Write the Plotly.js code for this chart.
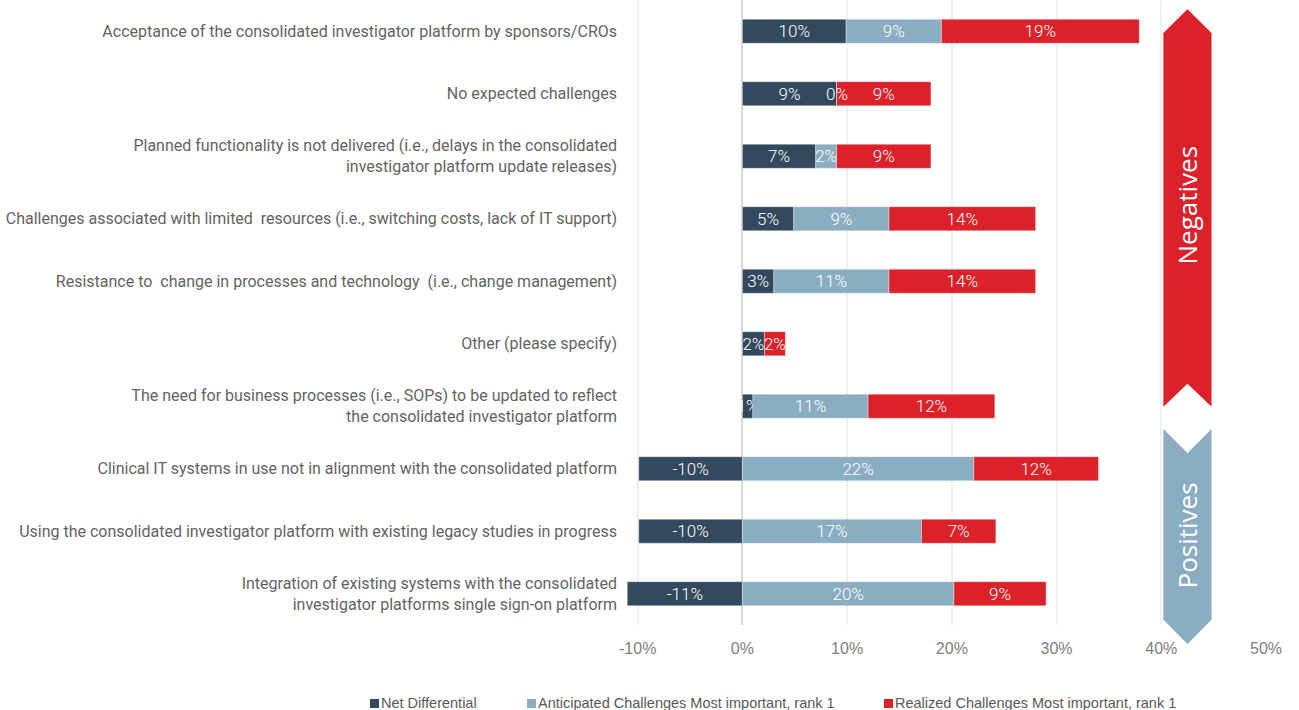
<!DOCTYPE html>
<html>
<head>
<meta charset="utf-8">
<script src="https://cdn.plot.ly/plotly-3.0.1.min.js"></script>
<style>html,body{margin:0;padding:0;background:#fff;}#chart{width:1299px;height:710px;}</style>
</head>
<body>
<div id="chart"></div>
<script>
var categories = [
  "Acceptance of the consolidated investigator platform by sponsors/CROs",
  "No expected challenges",
  "Planned functionality is not delivered (i.e., delays in the consolidated<br>investigator platform update releases)",
  "Challenges associated with limited  resources (i.e., switching costs, lack of IT support)",
  "Resistance to  change in processes and technology  (i.e., change management)",
  "Other (please specify)",
  "The need for business processes (i.e., SOPs) to be updated to reflect<br>the consolidated investigator platform",
  "Clinical IT systems in use not in alignment with the consolidated platform",
  "Using the consolidated investigator platform with existing legacy studies in progress",
  "Integration of existing systems with the consolidated<br>investigator platforms single sign-on platform"
];
var netDifferential = [0.099, 0.090, 0.070, 0.049, 0.030, 0.021, 0.010, -0.099, -0.099, -0.110];
var anticipated     = [0.091, 0.000, 0.020, 0.091, 0.110, null,  0.110, 0.221, 0.171, 0.202];
var realized        = [0.189, 0.090, 0.090, 0.140, 0.140, 0.020, 0.121, 0.119, 0.071, 0.088];
var seriesNames = ["Net Differential", "Anticipated Challenges Most important, rank 1", "Realized Challenges Most important, rank 1"];
var tickVals = [-0.1, 0, 0.1, 0.2, 0.3, 0.4, 0.5];
var tickText = ["-10%", "0%", "10%", "20%", "30%", "40%", "50%"];

var colors = ["#334A5E", "#8BADC1", "#DB222B"];
var seriesVals = [netDifferential, anticipated, realized];
var barFont = {family: "Roboto", size: 17, color: "#ffffff", weight: 300};

function pctText(arr) {
  return arr.map(function (v) { return (v === null) ? "" : Math.round(v * 100) + "%"; });
}

var traces = seriesVals.map(function (vals, i) {
  return {
    type: "bar",
    orientation: "h",
    name: seriesNames[i],
    y: categories,
    x: vals,
    text: pctText(vals),
    textposition: "inside",
    insidetextanchor: "middle",
    constraintext: "none",
    textangle: 0,
    cliponaxis: false,
    insidetextfont: barFont,
    marker: {color: colors[i], line: {color: "rgba(255,255,255,0.35)", width: 1}},
    showlegend: false,
    hoverinfo: "x+name"
  };
});

var annotations = [];
// labels for zero-width segments (drawn at the stack position)
seriesVals.forEach(function (vals, i) {
  vals.forEach(function (v, j) {
    if (v === 0) {
      var pos = 0;
      for (var k = 0; k < i; k++) {
        var pv = seriesVals[k][j];
        if (pv !== null && pv > 0) pos += pv;
      }
      annotations.push({xref: "x", yref: "y", x: pos, y: categories[j], text: pctText([v])[0],
        showarrow: false, font: barFont});
    }
  });
});

var shapes = [
  {type: "path", xref: "x", yref: "paper",
   path: "M 0.425 0.9851 L 0.448 0.9472 L 0.448 0.3494 L 0.425 0.3862 L 0.402 0.3494 L 0.402 0.9472 Z",
   fillcolor: "#DB222B", line: {width: 0}, layer: "above"},
  {type: "path", xref: "x", yref: "paper",
   path: "M 0.402 0.3136 L 0.425 0.2752 L 0.448 0.3136 L 0.448 0.0086 L 0.425 -0.0304 L 0.402 0.0086 Z",
   fillcolor: "#8BADC1", line: {width: 0}, layer: "above"}
];

annotations.push(
  {xref: "x", yref: "paper", x: 0.425, y: 1 - 205 / 625, yanchor: "middle", xanchor: "center",
   text: "Negatives", showarrow: false, textangle: -90,
   font: {family: "Open Sans", size: 26, color: "#ffffff"}},
  {xref: "x", yref: "paper", x: 0.425, y: 1 - 535 / 625, yanchor: "middle", xanchor: "center",
   text: "Positives", showarrow: false, textangle: -90,
   font: {family: "Open Sans", size: 26, color: "#ffffff"}}
);

// custom legend (squares + labels) along the bottom
var legendX = [370, 527, 884];
var legendY = 703;
seriesNames.forEach(function (name, i) {
  shapes.push({type: "rect", xref: "paper", yref: "paper",
    x0: (legendX[i] - 622) / 644, x1: (legendX[i] + 9 - 622) / 644,
    y0: 1 - (legendY + 5) / 625, y1: 1 - (legendY - 4) / 625,
    fillcolor: colors[i], line: {width: 0}});
  annotations.push({xref: "paper", yref: "paper", x: (legendX[i] + 9 - 622) / 644, y: 1 - legendY / 625,
    xanchor: "left", yanchor: "middle", text: name, showarrow: false,
    font: {family: "Liberation Sans", size: 14.5, color: "#595959"}});
});

var layout = {
  width: 1299, height: 710,
  margin: {l: 622, r: 33, t: 0, b: 85},
  paper_bgcolor: "#ffffff", plot_bgcolor: "#ffffff",
  barmode: "relative",
  bargap: 0.615,
  showlegend: false,
  xaxis: {range: [-0.115, 0.5], tickvals: tickVals, ticktext: tickText,
    showgrid: true, gridcolor: "#F0F0F0", gridwidth: 1.5,
    zeroline: true, zerolinecolor: "#D9D9D9", zerolinewidth: 2,
    ticks: "", ticklabelstandoff: 12,
    tickfont: {family: "Liberation Sans", size: 16, color: "#808080"}, fixedrange: true},
  yaxis: {autorange: "reversed", type: "category", ticks: "", ticklabelstandoff: 4,
    tickfont: {family: "Roboto", size: 16, color: "#636363"}, showgrid: false, fixedrange: true},
  shapes: shapes,
  annotations: annotations
};

Plotly.newPlot("chart", traces, layout, {displayModeBar: false});
</script>
</body>
</html>
